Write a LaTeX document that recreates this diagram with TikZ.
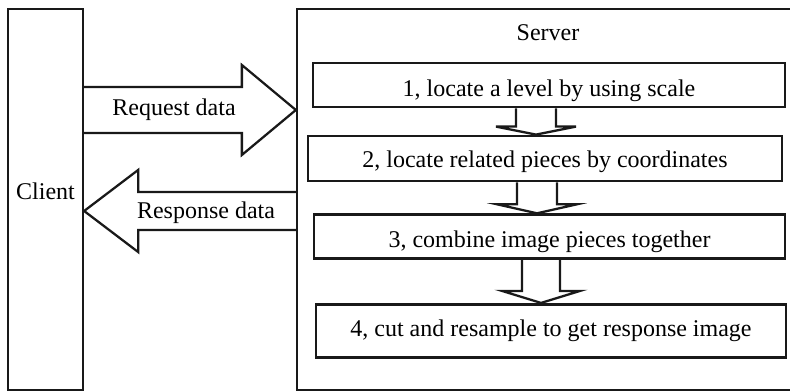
\documentclass[tikz,border=0pt]{standalone}
\usepackage{fontspec}
\setmainfont{Liberation Serif}
\usetikzlibrary{calc}
\begin{document}
\begin{tikzpicture}[x=0.75pt,y=-0.75pt,
  every node/.style={font=\fontsize{18pt}{20pt}\selectfont},
  frame/.style={draw=black!90,line width=1.7pt,fill=white,inner sep=0pt,text height=0pt,text depth=0pt},
  stepbox/.style={draw=black!90,line width=2.1pt,fill=white,inner sep=0pt,text depth=0pt,text height=#1},
  blockarrow/.style={draw=black!90,line width=1.7pt,line join=miter},
  plain/.style={inner sep=0pt,anchor=base}]
\useasboundingbox (0,0) rectangle (790,391);
\clip (0,0) rectangle (790,391);
% frames
\node[frame,minimum width=56.25pt,minimum height=285.75pt] (client) at (45.5,199.5) {Client};
\node[frame,minimum width=378pt,minimum height=285.75pt] (server) at (549,199.5) {};
\node[plain] (srvlabel) at (548,41) {Server};
% step boxes
\node[stepbox=17.6pt,minimum width=354pt,minimum height=33pt] (b1) at (549,85) {1, locate a level by using scale};
\node[stepbox=13.8pt,minimum width=355.5pt,minimum height=33.75pt] (b2) at (545,158.5) {2, locate related pieces by coordinates};
\node[stepbox=16.5pt,minimum width=353.25pt,minimum height=33pt] (b3) at (549.5,236.7) {3, combine image pieces together};
\node[stepbox=8.5pt,minimum width=352.5pt,minimum height=40pt] (b4) at (551,331) {4, cut and resample to get response image};
% request / response arrows
\coordinate (rq) at (0,110);
\coordinate (rs) at (0,211);
\draw[blockarrow] ($(client.east |- rq)+(0,-23)$) -- ($(server.west |- rq)+(-54,-23)$) -- ++(0,-22)
  -- (server.west |- rq) -- ($(server.west |- rq)+(-54,45)$) -- ++(0,-22) -- ($(client.east |- rq)+(0,23)$);
\draw[blockarrow] ($(server.west |- rs)+(0,-19)$) -- ($(client.east |- rs)+(54,-19)$) -- ++(0,-22)
  -- (client.east |- rs) -- ($(client.east |- rs)+(54,41)$) -- ++(0,-22) -- ($(server.west |- rs)+(0,19)$);
\node[plain] (reqlabel) at (174,115.7) {Request data};
\node[plain] (reslabel) at (206,218.3) {Response data};
% down arrows between steps
\coordinate (a1) at (536,0);
\coordinate (a2) at (537,0);
\coordinate (a3) at (541,0);
\draw[blockarrow] ($(a1 |- b1.south)+(-20,0)$) -- ($(a1 |- b2.north)+(-20,-8)$) -- ++(-20,0)
  -- (a1 |- b2.north) -- ($(a1 |- b2.north)+(40,-8)$) -- ++(-20,0) -- ($(a1 |- b1.south)+(20,0)$);
\draw[blockarrow] ($(a2 |- b2.south)+(-20,0)$) -- ($(a2 |- b3.north)+(-20,-9)$) -- ++(-20,0)
  -- (a2 |- b3.north) -- ($(a2 |- b3.north)+(40,-9)$) -- ++(-20,0) -- ($(a2 |- b2.south)+(20,0)$);
\draw[blockarrow] ($(a3 |- b3.south)+(-19,0)$) -- ($(a3 |- b4.north)+(-19,-12)$) -- ++(-20,0)
  -- (a3 |- b4.north) -- ($(a3 |- b4.north)+(39,-12)$) -- ++(-20,0) -- ($(a3 |- b3.south)+(19,0)$);
\end{tikzpicture}
\end{document}
